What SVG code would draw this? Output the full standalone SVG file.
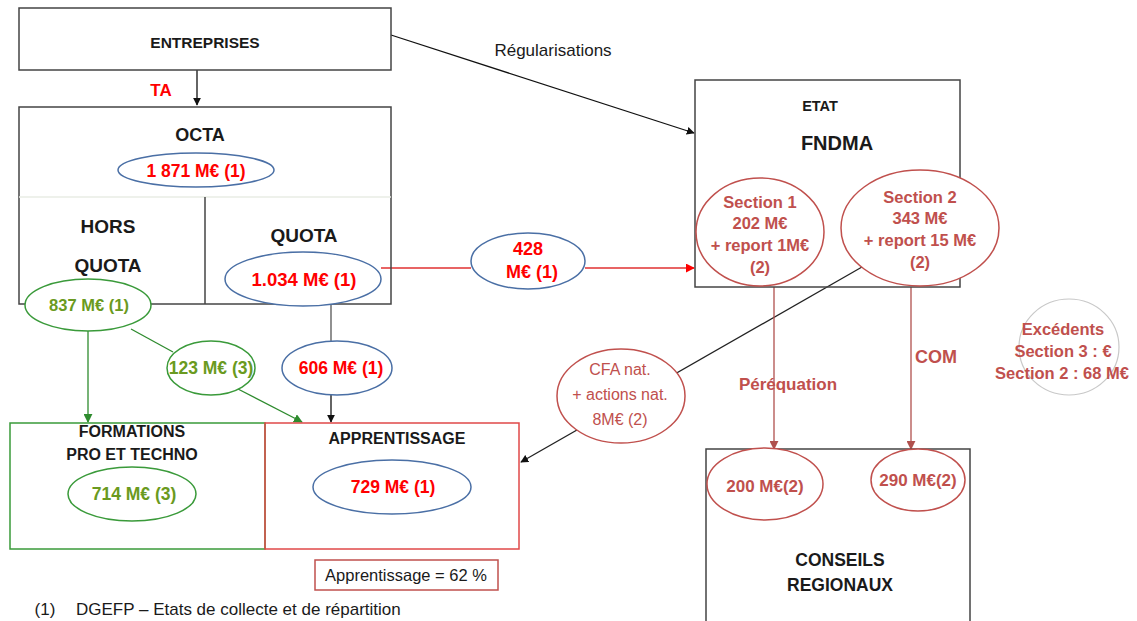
<svg xmlns="http://www.w3.org/2000/svg" width="1137" height="621" viewBox="0 0 1137 621">
<style>
text{font-family:"Liberation Sans",Arial,sans-serif;dominant-baseline:central;text-anchor:middle}
.b{font-weight:bold}
.k{fill:#1a1a1a}
.r{fill:#ff0000}
.g{fill:#6a9a20}
.s{fill:#c0504d}
.box{fill:none;stroke:#444;stroke-width:1.5}
.eb{fill:#fff;stroke:#4a6fa5;stroke-width:1.5}
.eg{fill:#fff;stroke:#3a9a3a;stroke-width:1.5}
.es{fill:#fff;stroke:#c0504d;stroke-width:1.5}
.ln{fill:none;stroke-width:1.3}
</style>
<defs>
<marker id="ak" viewBox="0 0 10 10" refX="9" refY="5" markerWidth="8" markerHeight="8" orient="auto" markerUnits="userSpaceOnUse"><path d="M0,0L10,5L0,10z" fill="#111"/></marker>
<marker id="ag" viewBox="0 0 10 10" refX="9" refY="5" markerWidth="9" markerHeight="9" orient="auto" markerUnits="userSpaceOnUse"><path d="M0,0L10,5L0,10z" fill="#2e8b2e"/></marker>
<marker id="ar" viewBox="0 0 10 10" refX="9" refY="5" markerWidth="9" markerHeight="9" orient="auto" markerUnits="userSpaceOnUse"><path d="M0,0L10,5L0,10z" fill="#ff0000"/></marker>
<marker id="as" viewBox="0 0 10 10" refX="9" refY="5" markerWidth="9" markerHeight="9" orient="auto" markerUnits="userSpaceOnUse"><path d="M0,0L10,5L0,10z" fill="#b0504d"/></marker>
</defs>
<rect width="1137" height="621" fill="#fff"/>

<g id="connectors">
<line class="ln" x1="197" y1="70" x2="197" y2="105" stroke="#111" marker-end="url(#ak)"/>
<line class="ln" x1="391" y1="35" x2="694" y2="133" stroke="#111" marker-end="url(#ak)"/>
<line class="ln" x1="381" y1="268" x2="471" y2="268" stroke="#e03030"/>
<line class="ln" x1="585" y1="268" x2="694" y2="268" stroke="#e03030" marker-end="url(#ar)"/>
<line class="ln" x1="88" y1="331" x2="88" y2="422" stroke="#2e8b2e" marker-end="url(#ag)"/>
<line class="ln" x1="131" y1="329" x2="173" y2="352" stroke="#2e8b2e"/>
<line class="ln" x1="238" y1="389" x2="302" y2="422" stroke="#2e8b2e" marker-end="url(#ag)"/>
<line class="ln" x1="331" y1="304" x2="331" y2="341" stroke="#555"/>
<line class="ln" x1="331" y1="395" x2="331" y2="422" stroke="#111" marker-end="url(#ak)"/>
<line class="ln" x1="862" y1="267" x2="521" y2="462" stroke="#222" marker-end="url(#ak)"/>
<line class="ln" x1="774" y1="287" x2="774" y2="449" stroke="#b0504d" marker-end="url(#as)"/>
<line class="ln" x1="911" y1="287" x2="911" y2="449" stroke="#b0504d" marker-end="url(#as)"/>
<text x="161" y="90" class="b r" font-size="17">TA</text>
<text x="553" y="50" class="k" font-size="17">Régularisations</text>
<text x="788" y="384" class="b s" font-size="17">Péréquation</text>
<text x="936" y="357" class="b s" font-size="18">COM</text>
</g>

<g id="entreprises">
<rect x="19" y="8" width="372" height="62" class="box"/>
<text x="205" y="42" class="b k" font-size="15.5">ENTREPRISES</text>
</g>

<g id="octa">
<rect x="19" y="107" width="372" height="197" class="box"/>
<line x1="19" y1="197" x2="391" y2="197" stroke="#e8ece4" stroke-width="1.5"/>
<line x1="205" y1="197" x2="205" y2="304" stroke="#444" stroke-width="1.5"/>
<text x="200" y="135" class="b k" font-size="18">OCTA</text>
<ellipse cx="196" cy="170" rx="78" ry="17" class="eb"/>
<text x="196" y="171" class="b r" font-size="17.5">1 871 M€ (1)</text>
<text x="108" y="226" class="b k" font-size="19">HORS</text>
<text x="108" y="265" class="b k" font-size="19">QUOTA</text>
<text x="304" y="235" class="b k" font-size="19">QUOTA</text>
<ellipse cx="303" cy="279" rx="78" ry="27" class="eb"/>
<text x="304" y="279" class="b r" font-size="18.5">1.034 M€ (1)</text>
</g>

<g id="hors-quota-837">
<ellipse cx="88" cy="305" rx="63" ry="26" class="eg"/>
<text x="89" y="305" class="b g" font-size="16.5">837 M€ (1)</text>
</g>

<g id="v123">
<ellipse cx="211" cy="368" rx="44" ry="27" class="eg"/>
<text x="211" y="368" class="b g" font-size="17.5">123 M€ (3)</text>
</g>

<g id="v606">
<ellipse cx="337" cy="368" rx="55" ry="27" class="eb"/>
<text x="341" y="368" class="b r" font-size="17.5">606 M€ (1)</text>
</g>

<g id="v428">
<ellipse cx="528" cy="261" rx="57" ry="28" class="eb"/>
<text x="528" y="249" class="b r" font-size="18">428</text>
<text x="532" y="272" class="b r" font-size="18">M€ (1)</text>
</g>

<g id="formations">
<rect x="10" y="423" width="255" height="126" fill="none" stroke="#3a9a3a" stroke-width="1.5"/>
<text x="132" y="431" class="b k" font-size="16">FORMATIONS</text>
<text x="132" y="454" class="b k" font-size="16">PRO ET TECHNO</text>
<ellipse cx="132" cy="494" rx="64" ry="27" class="eg"/>
<text x="134" y="494" class="b g" font-size="17.5">714 M€ (3)</text>
</g>

<g id="apprentissage">
<rect x="265" y="423" width="254" height="126" fill="none" stroke="#e04848" stroke-width="1.5"/>
<text x="397" y="438" class="b k" font-size="16">APPRENTISSAGE</text>
<ellipse cx="392" cy="487" rx="79" ry="27" class="eb"/>
<text x="393" y="487" class="b r" font-size="17.5">729 M€ (1)</text>
</g>

<g id="ratio">
<rect x="315" y="560" width="183" height="30" fill="none" stroke="#c0504d" stroke-width="1.5"/>
<text x="406" y="575" class="k" font-size="16.5">Apprentissage = 62 %</text>
</g>

<g id="footnote">
<text x="45" y="609" class="k" font-size="17">(1)</text>
<text x="76" y="609" class="k" font-size="17" style="text-anchor:start">DGEFP – Etats de collecte et de répartition</text>
</g>

<g id="etat">
<rect x="695" y="80" width="265" height="207" class="box"/>
<text x="820" y="106" class="b k" font-size="14.5">ETAT</text>
<text x="837" y="143" class="b k" font-size="20">FNDMA</text>
</g>

<g id="section1">
<ellipse cx="760" cy="232" rx="64" ry="54" class="es"/>
<text x="760" y="202" class="b s" font-size="16.5">Section 1</text>
<text x="760" y="223" class="b s" font-size="16.5">202 M€</text>
<text x="760" y="245" class="b s" font-size="16.5">+ report 1M€</text>
<text x="760" y="267" class="b s" font-size="16.5">(2)</text>
</g>

<g id="section2">
<ellipse cx="920" cy="228" rx="79" ry="58" class="es"/>
<text x="920" y="197" class="b s" font-size="16.5">Section 2</text>
<text x="920" y="218" class="b s" font-size="16.5">343 M€</text>
<text x="920" y="240" class="b s" font-size="16.5">+ report 15 M€</text>
<text x="920" y="262" class="b s" font-size="16.5">(2)</text>
</g>

<g id="cfa">
<ellipse cx="621" cy="396" rx="64" ry="47" class="es"/>
<text x="620" y="369" class="s" font-size="16">CFA nat.</text>
<text x="620" y="394" class="s" font-size="16">+ actions nat.</text>
<text x="620" y="419" class="s" font-size="16">8M€ (2)</text>
</g>

<g id="excedents">
<ellipse cx="1069" cy="347" rx="50" ry="48" fill="none" stroke="#c8c8c8" stroke-width="1.2"/>
<text x="1063" y="329" class="b s" font-size="16.5">Excédents</text>
<text x="1063" y="351" class="b s" font-size="16.5">Section 3 : €</text>
<text x="1062" y="373" class="b s" font-size="16.5">Section 2 : 68 M€</text>
</g>

<g id="conseils">
<rect x="706" y="449" width="264" height="180" class="box"/>
<ellipse cx="765" cy="484" rx="58" ry="36" class="es"/>
<text x="765" y="486" class="b s" font-size="17">200 M€(2)</text>
<ellipse cx="918" cy="480" rx="47" ry="31" class="es"/>
<text x="918" y="480" class="b s" font-size="17">290 M€(2)</text>
<text x="840" y="560" class="b k" font-size="17.5">CONSEILS</text>
<text x="840" y="585" class="b k" font-size="17.5">REGIONAUX</text>
</g>
</svg>
